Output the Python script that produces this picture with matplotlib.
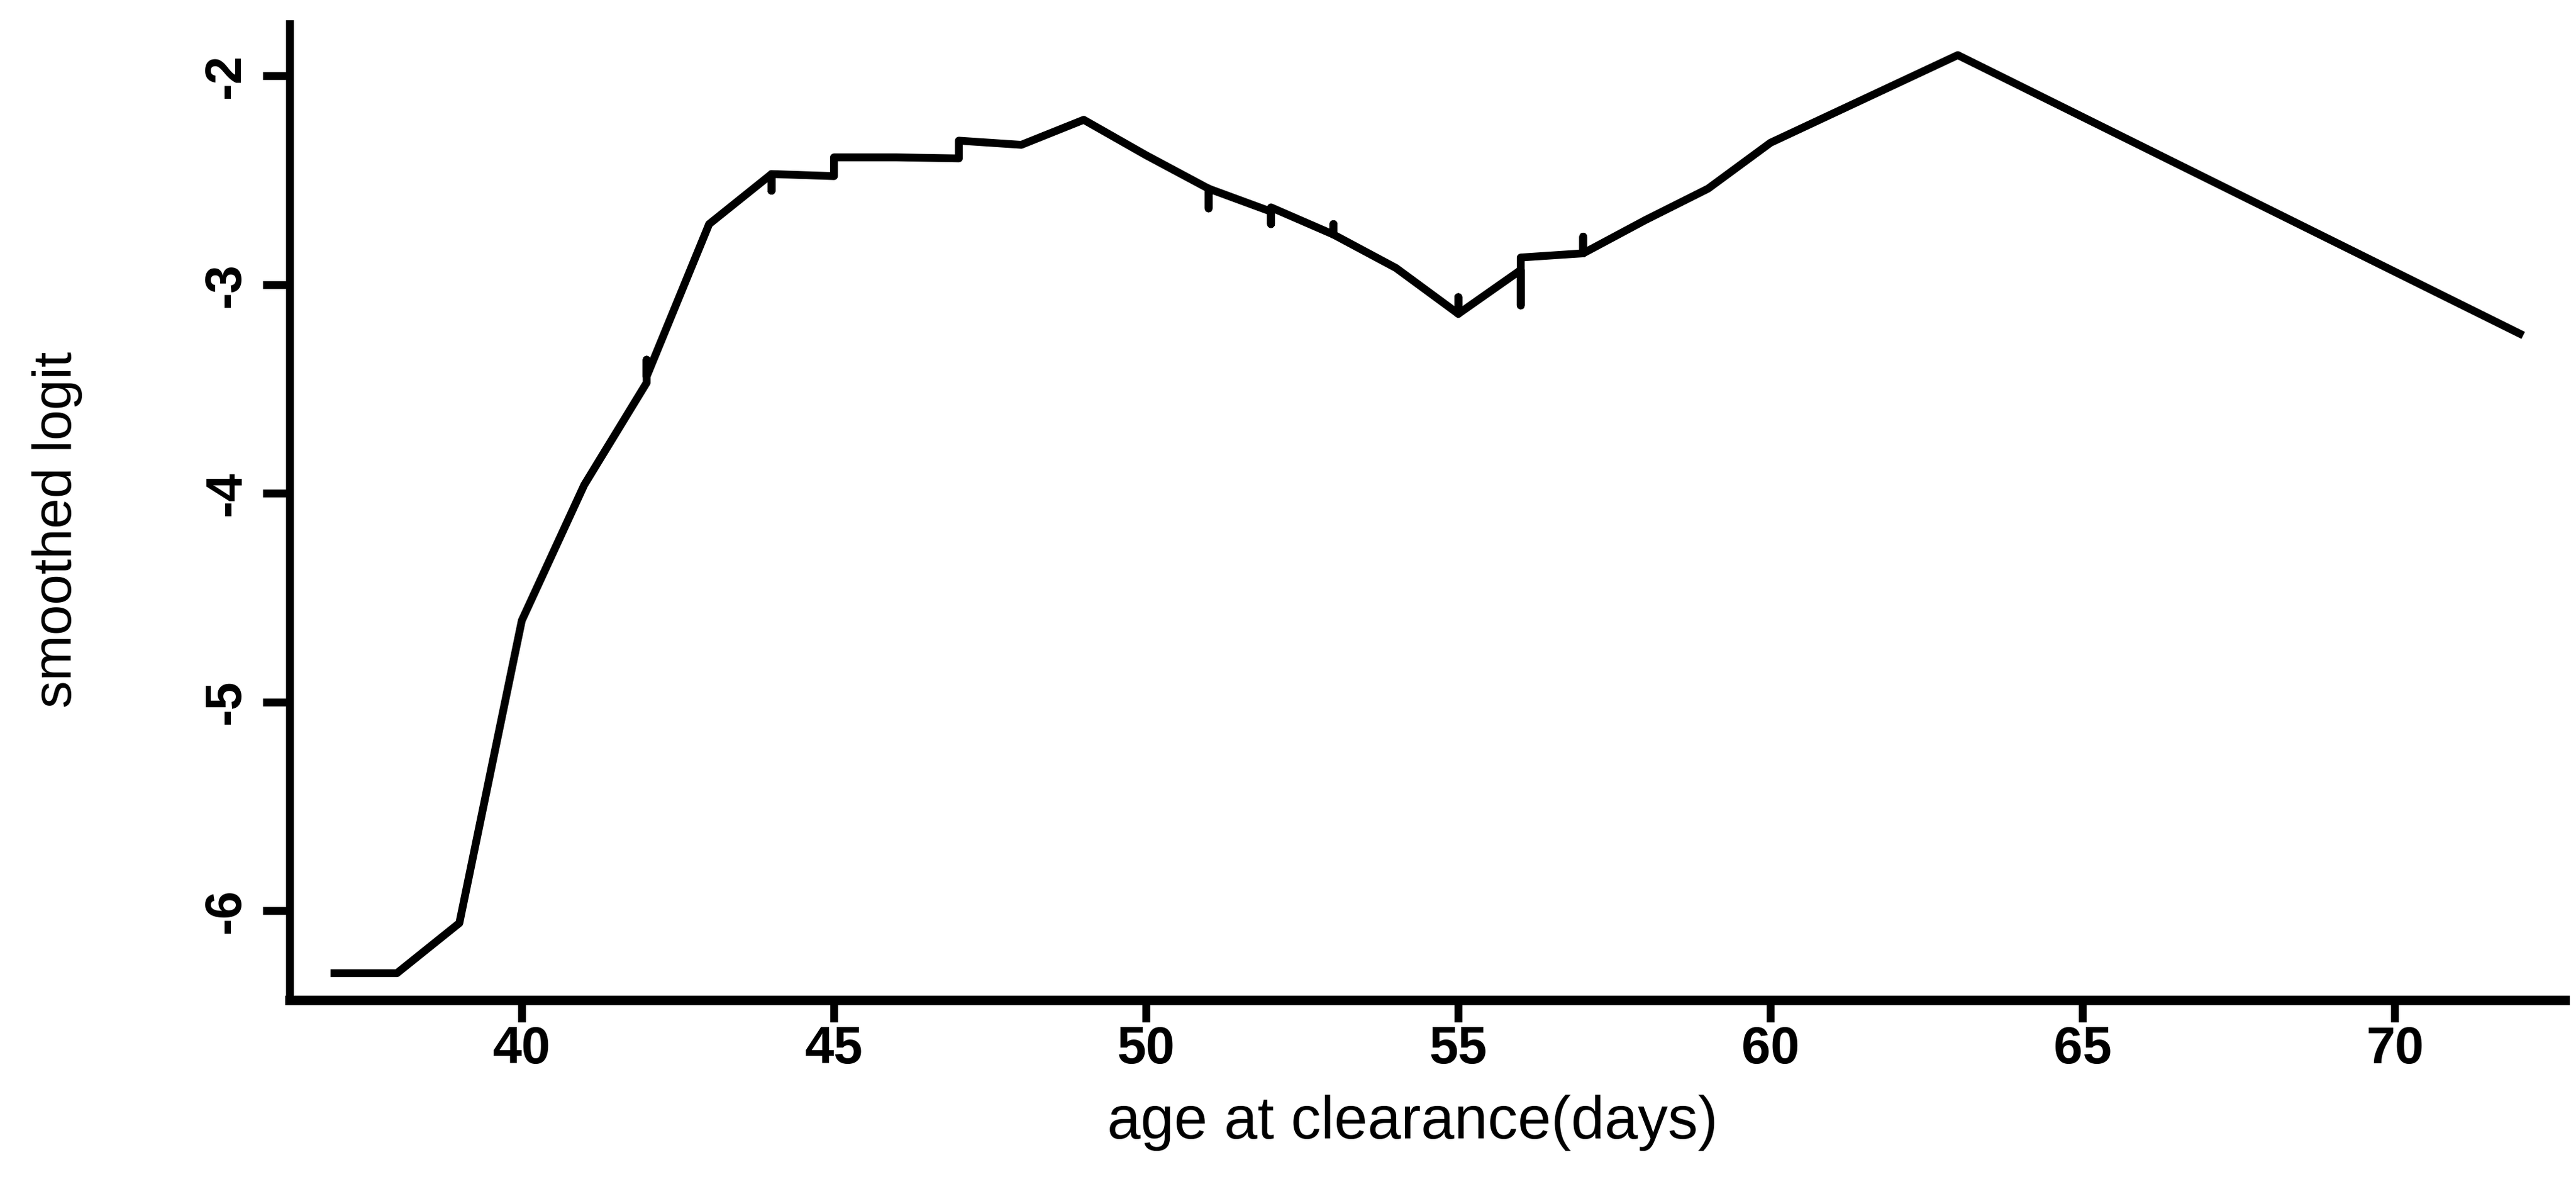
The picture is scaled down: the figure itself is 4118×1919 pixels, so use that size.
import numpy as np
import matplotlib
matplotlib.use('Agg')
import matplotlib.pyplot as plt

# smoothed logit against age at clearance
# repeated ages make the little vertical spikes of the original curve
age = [37, 38, 39, 40, 41,
       42, 42, 42, 43,
       44, 44, 44, 45, 45, 46, 47, 47, 48, 49, 50,
       51, 51, 51, 52, 52, 52, 53, 53, 53, 54,
       55, 55, 55, 56, 56, 56, 57, 57, 57, 58,
       59, 60, 61, 62, 63, 72]
logit = [-6.30, -6.30, -6.06, -4.61, -3.96,
         -3.47, -3.36, -3.44, -2.71,
         -2.47, -2.55, -2.47, -2.48, -2.39, -2.39, -2.395, -2.31, -2.33, -2.21, -2.38,
         -2.54, -2.635, -2.54, -2.65, -2.71, -2.63, -2.76, -2.71, -2.76, -2.92,
         -3.14, -3.06, -3.14, -2.93, -3.10, -2.87, -2.85, -2.77, -2.85, -2.69,
         -2.54, -2.32, -2.18, -2.04, -1.90, -3.235]

x_ticks = [40, 45, 50, 55, 60, 65, 70]
y_ticks = [-6, -5, -4, -3, -2]
x_range = [36.28, 72.72]
y_range = [-6.429, -1.751]

plt.rcParams['font.family'] = ['Liberation Sans', 'DejaVu Sans']
plt.rcParams['axes.unicode_minus'] = False

fig = plt.figure(figsize=(41.18, 19.19), dpi=100)
ax = fig.add_axes([0.1124, 0.1673, 0.8832, 0.8127])

ax.plot(age, logit, color='black', linewidth=9)

ax.set_xlim(x_range)
ax.set_ylim(y_range)
ax.set_xticks(x_ticks)
ax.set_yticks(y_ticks)

for side in ['top', 'right']:
  ax.spines[side].set_visible(False)
ax.spines['left'].set_linewidth(9)
ax.spines['bottom'].set_linewidth(11)

ax.tick_params(axis='x', length=25, width=9, pad=4, labelsize=60)
ax.tick_params(axis='y', length=31, width=9, pad=14, labelsize=58)
for lab in ax.get_xticklabels():
  lab.set_fontweight('bold')
for lab in ax.get_yticklabels():
  lab.set_fontweight('bold')
  lab.set_rotation(90)
  lab.set_va('center')

ax.set_xlabel('age at clearance(days)', fontsize=69, va='center', ha='center')
ax.xaxis.set_label_coords(0.4935, -0.1256)
ax.set_ylabel('smoothed logit', fontsize=63, va='center', ha='center')
ax.yaxis.set_label_coords(-0.102, 0.482)

fig.savefig('out.png', dpi=100)
